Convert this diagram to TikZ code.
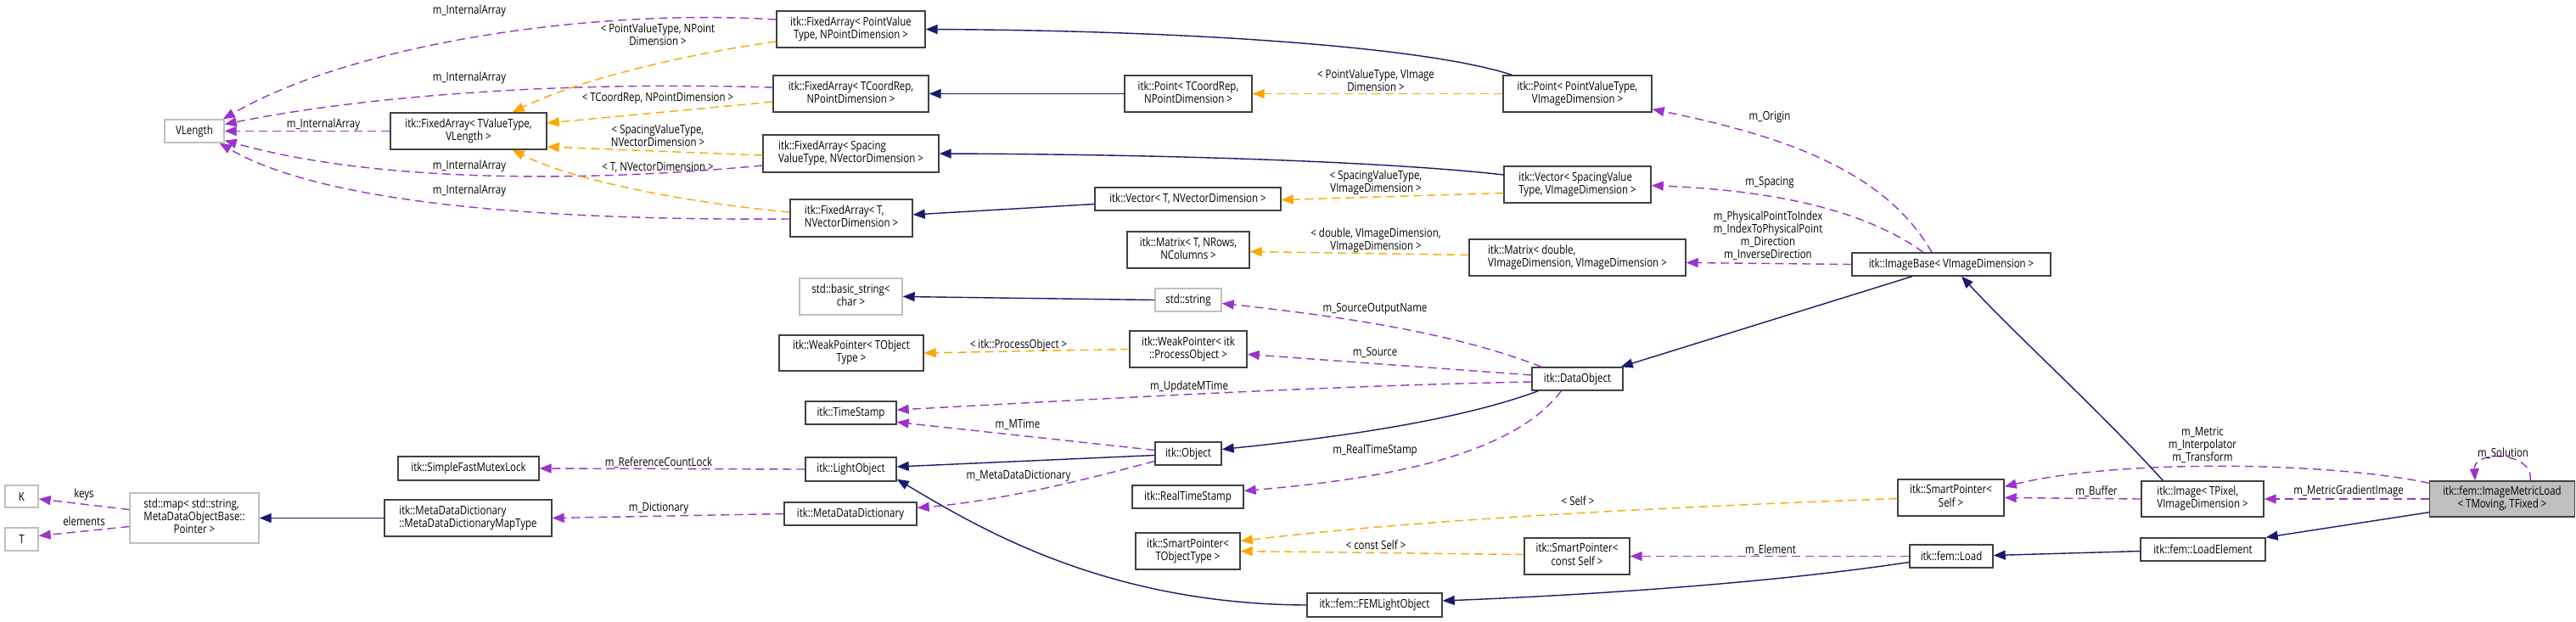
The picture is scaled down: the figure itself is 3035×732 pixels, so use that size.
\documentclass[tikz,border=0pt]{standalone}
\usepackage{fontspec}
\setmainfont[FakeStretch=0.82]{Open Sans}
\usetikzlibrary{arrows.meta,calc}
\definecolor{inh}{HTML}{191970}
\definecolor{usec}{HTML}{9A32CD}
\definecolor{tplc}{HTML}{FFA500}
\definecolor{bord}{HTML}{404040}
\definecolor{gbord}{HTML}{BFBFBF}
\definecolor{hl}{HTML}{BFBFBF}
\newcommand{\TwoL}[2]{\begin{tabular}{@{}l@{}}#1\\\multicolumn{1}{@{}c@{}}{#2}\end{tabular}}
\newcommand{\ThreeL}[3]{\begin{tabular}{@{}l@{}}#1\\#2\\\multicolumn{1}{@{}c@{}}{#3}\end{tabular}}
\tikzset{
  cls/.style={draw=bord, line width=1.4pt, fill=white, inner sep=0pt, align=center},
  ext/.style={cls, draw=gbord},
  lbl/.style={inner sep=0pt, align=center},
  tip/.style={-{Triangle[length=14pt,width=11pt]}},
  inhe/.style={draw=inh, line width=1.4pt, tip},
  usee/.style={draw=usec, line width=1.4pt, dash pattern=on 10pt off 6pt, tip},
  tple/.style={draw=tplc, line width=1.4pt, dash pattern=on 10pt off 6pt, tip},
}
\begin{document}
\begin{tikzpicture}[x=1pt,y=-1pt,font=\fontsize{14}{15}\selectfont]
\useasboundingbox (0,0) rectangle (3035,732);
\fill[white] (0,0) rectangle (3035,732);

% ---------- nodes ----------
\node[ext, minimum width=70pt, minimum height=27pt] (vlen) at (229,154.5) {VLength};
\node[cls, minimum width=184pt, minimum height=43pt] (faTV) at (552,154.5) {\TwoL{itk::FixedArray< TValueType,}{VLength >}};
\node[cls, minimum width=175pt, minimum height=43pt] (faPV) at (1002.5,34.5) {\TwoL{itk::FixedArray< PointValue}{Type, NPointDimension >}};
\node[cls, minimum width=183pt, minimum height=43pt] (faTC) at (1002.5,110.5) {\TwoL{itk::FixedArray< TCoordRep,}{NPointDimension >}};
\node[cls, minimum width=207pt, minimum height=44pt] (faSV) at (1002.5,181) {\TwoL{itk::FixedArray< Spacing}{ValueType, NVectorDimension >}};
\node[cls, minimum width=144pt, minimum height=44pt] (faTN) at (1003,257) {\TwoL{itk::FixedArray< T,}{NVectorDimension >}};
\node[cls, minimum width=150pt, minimum height=43pt] (ptTC) at (1400,110.5) {\TwoL{itk::Point< TCoordRep,}{NPointDimension >}};
\node[cls, minimum width=219pt, minimum height=27pt] (vecTN) at (1399.5,234.5) {itk::Vector< T, NVectorDimension >};
\node[cls, minimum width=144pt, minimum height=43pt] (mxT) at (1400,294.5) {\TwoL{itk::Matrix< T, NRows,}{NColumns >}};
\node[cls, minimum width=175pt, minimum height=43pt] (ptPV) at (1858.5,110.5) {\TwoL{itk::Point< PointValueType,}{VImageDimension >}};
\node[cls, minimum width=173pt, minimum height=43pt] (vecSV) at (1858.5,217.5) {\TwoL{itk::Vector< SpacingValue}{Type, VImageDimension >}};
\node[cls, minimum width=255pt, minimum height=43pt] (mxD) at (1858.5,303.5) {\TwoL{itk::Matrix< double,}{VImageDimension, VImageDimension >}};
\node[cls, minimum width=234pt, minimum height=27pt] (ib) at (2299,311.5) {itk::ImageBase< VImageDimension >};
\node[ext, minimum width=121pt, minimum height=43pt] (bstr) at (1002.5,349.5) {\TwoL{std::basic\_string<}{char >}};
\node[ext, minimum width=78pt, minimum height=27pt] (str) at (1400,353.5) {std::string};
\node[cls, minimum width=170pt, minimum height=42pt] (wpT) at (1003,416) {\TwoL{itk::WeakPointer< TObject}{Type >}};
\node[cls, minimum width=138pt, minimum height=43pt] (wpP) at (1400,411.5) {\TwoL{itk::WeakPointer< itk}{::ProcessObject >}};
\node[cls, minimum width=107pt, minimum height=27pt] (dobj) at (1858.5,446.5) {itk::DataObject};
\node[cls, minimum width=107pt, minimum height=27pt] (ts) at (1002.5,486.5) {itk::TimeStamp};
\node[cls, minimum width=78pt, minimum height=27pt] (obj) at (1400,534.5) {itk::Object};
\node[cls, minimum width=107pt, minimum height=28pt] (lo) at (1002.5,553) {itk::LightObject};
\node[cls, minimum width=131pt, minimum height=27pt] (rts) at (1399.5,585.5) {itk::RealTimeStamp};
\node[cls, minimum width=156pt, minimum height=27pt] (mdd) at (1002,605.5) {itk::MetaDataDictionary};
\node[cls, minimum width=123pt, minimum height=43pt] (spT) at (1399.5,649.5) {\TwoL{itk::SmartPointer<}{TObjectType >}};
\node[cls, minimum width=166pt, minimum height=28pt] (sfm) at (552,552) {itk::SimpleFastMutexLock};
\node[ext, minimum width=39pt, minimum height=26pt] (K) at (25.5,585) {K};
\node[ext, minimum width=39pt, minimum height=27pt] (T) at (25.5,635.5) {T};
\node[ext, minimum width=152pt, minimum height=59pt] (map) at (229,610.5) {\ThreeL{std::map< std::string,}{MetaDataObjectBase::}{Pointer >}};
\node[cls, minimum width=197pt, minimum height=43pt] (mddmt) at (551.5,610.5) {\TwoL{itk::MetaDataDictionary}{::MetaDataDictionaryMapType}};
\node[cls, minimum width=125pt, minimum height=43pt] (spS) at (2298.5,586.5) {\TwoL{itk::SmartPointer<}{Self >}};
\node[cls, minimum width=144pt, minimum height=42pt] (img) at (2595,588) {\TwoL{itk::Image< TPixel,}{VImageDimension >}};
\node[cls, fill=hl, minimum width=171pt, minimum height=42pt] (iml) at (2948,588) {\TwoL{itk::fem::ImageMetricLoad}{< TMoving, TFixed >}};
\node[cls, minimum width=124pt, minimum height=43pt] (spC) at (1858,655.5) {\TwoL{itk::SmartPointer<}{const Self >}};
\node[cls, minimum width=98pt, minimum height=27pt] (load) at (2299,655.5) {itk::fem::Load};
\node[cls, minimum width=147pt, minimum height=27pt] (le) at (2595.5,647.5) {itk::fem::LoadElement};
\node[cls, minimum width=159pt, minimum height=28pt] (feml) at (1619.5,713) {itk::fem::FEMLightObject};

% ---------- usage edges (purple) ----------
\draw[usee] (faTV.west) -- (vlen.east);
\draw[usee] ($(faPV.west)+(0,-11.5)$) .. controls (700,10) and (420,50) .. ($(vlen.north east)+(-2,0)$);
\draw[usee] ($(faTC.west)+(0,-7.5)$) .. controls (650,95) and (420,115) .. ($(vlen.east)+(0,-8)$);
\draw[usee] ($(faSV.west)+(0,14)$) .. controls (700,214) and (450,217) .. ($(vlen.east)+(0,11)$);
\draw[usee] ($(faTN.west)+(0,1)$) .. controls (640,260) and (380,240) .. ($(vlen.south east)+(-6,0)$);
\draw[usee] ($(ib.north)+(-23,0)$) .. controls (2220,200) and (2100,160) .. ($(ptPV.south east)+(0,-4)$);
\draw[usee] ($(ib.north)+(-33,0)$) .. controls (2200,250) and (2100,225) .. ($(vecSV.east)+(0,1)$);
\draw[usee] (ib.west) -- ($(mxD.east)+(0,6)$);
\draw[usee] ($(dobj.north west)+(12,0)$) .. controls (1720,395) and (1600,375) .. ($(str.east)+(0,4)$);
\draw[usee] ($(dobj.west)+(0,-4.5)$) -- ($(wpP.east)+(0,6)$);
\draw[usee] ($(dobj.west)+(0,3.5)$) .. controls (1550,455) and (1300,470) .. ($(ts.east)+(0,-3.5)$);
\draw[usee] ($(obj.west)+(0,-4)$) -- ($(ts.east)+(0,11)$);
\draw[usee] (lo.west) -- (sfm.east);
\draw[usee] ($(obj.west)+(0,9)$) .. controls (1280,565) and (1180,590) .. ($(mdd.east)+(0,-7)$);
\draw[usee] ($(dobj.south west)+(35,0)$) .. controls (1780,540) and (1620,565) .. ($(rts.east)+(0,-7)$);
\draw[usee] (mdd.west) -- (mddmt.east);
\draw[usee] ($(map.west)+(0,-10)$) -- ($(K.east)+(0,3)$);
\draw[usee] ($(map.west)+(0,10)$) -- ($(T.east)+(0,-4)$);
\draw[usee] ($(iml.north west)+(0,3)$) .. controls (2750,545) and (2500,540) .. ($(spS.east)+(0,-13)$);
\draw[usee] (img.west) -- (spS.east);
\draw[usee] (iml.west) -- (img.east);
\draw[usee] ($(iml.north)+(33,0)$) .. controls (2986,532) and (2914,530) .. ($(iml.north)+(-32,0)$);
\draw[usee] (load.west) -- (spC.east);

% ---------- template edges (orange) ----------
\draw[tple] ($(faPV.west)+(0,14.5)$) .. controls (800,65) and (680,95) .. ($(faTV.north east)+(-41,0)$);
\draw[tple] ($(faTC.west)+(0,9.5)$) -- ($(faTV.east)+(0,-9.5)$);
\draw[tple] ($(faSV.west)+(0,2)$) -- ($(faTV.east)+(0,18.5)$);
\draw[tple] ($(faTN.west)+(0,-7)$) .. controls (820,240) and (680,215) .. ($(faTV.south east)+(-41,0)$);
\draw[tple] (ptPV.west) -- (ptTC.east);
\draw[tple] ($(vecSV.west)+(0,10)$) -- ($(vecTN.east)+(0,1)$);
\draw[tple] ($(mxD.west)+(0,-3)$) -- ($(mxT.east)+(0,2)$);
\draw[tple] (wpP.west) -- (wpT.east);
\draw[tple] ($(spS.west)+(0,1)$) .. controls (1900,600) and (1650,615) .. ($(spT.east)+(0,-12)$);
\draw[tple] ($(spC.west)+(0,-2)$) -- (spT.east);

% ---------- inheritance edges (blue) ----------
\draw[inhe] ($(ptPV.north west)+(11,0)$) .. controls (1680,55) and (1400,36) .. (faPV.east);
\draw[inhe] (ptTC.west) -- (faTC.east);
\draw[inhe] ($(vecSV.west)+(0,-11.5)$) .. controls (1650,192) and (1400,182) .. (faSV.east);
\draw[inhe] ($(vecTN.west)+(0,6)$) -- ($(faTN.east)+(0,-4)$);
\draw[inhe] (str.west) -- (bstr.east);
\draw[inhe] ($(ib.south)+(-46,0)$) -- ($(dobj.north east)+(-3,0)$);
\draw[inhe] ($(obj.west)+(0,2)$) -- ($(lo.east)+(0,-3)$);
\draw[inhe] ($(dobj.south west)+(8,0)$) .. controls (1720,495) and (1580,515) .. ($(obj.east)+(0,-5)$);
\draw[inhe] (mddmt.west) -- (map.east);
\draw[inhe] ($(img.north west)+(26,0)$) .. controls (2470,480) and (2380,400) .. ($(ib.south)+(12,0)$);
\draw[inhe] ($(iml.south west)+(0,-6)$) -- (le.north east);
\draw[inhe] ($(le.west)+(0,2)$) -- ($(load.east)+(0,-1)$);
\draw[inhe] ($(load.west)+(0,7)$) .. controls (2100,685) and (1900,700) .. ($(feml.east)+(0,-5)$);
\draw[inhe] (feml.west) .. controls (1300,712) and (1150,620) .. ($(lo.south east)+(0,-3)$);

% ---------- edge labels ----------
\node[lbl] (l01) at (381,147) {m\_InternalArray};
\node[lbl] (l02) at (553,13) {m\_InternalArray};
\node[lbl] (l03) at (553,92) {m\_InternalArray};
\node[lbl] (l04) at (553,196) {m\_InternalArray};
\node[lbl] (l05) at (553,225) {m\_InternalArray};
\node[lbl] (l06) at (775,40.5) {< PointValueType, NPoint\\Dimension >};
\node[lbl] (l07) at (775,116) {< TCoordRep, NPointDimension >};
\node[lbl] (l08) at (775,159.5) {< SpacingValueType,\\NVectorDimension >};
\node[lbl] (l09) at (775,197) {< T, NVectorDimension >};
\node[lbl] (l10) at (1621,94.5) {< PointValueType, VImage\\Dimension >};
\node[lbl] (l11) at (1621,215.5) {< SpacingValueType,\\VImageDimension >};
\node[lbl] (l12) at (1621,283) {< double, VImageDimension,\\VImageDimension >};
\node[lbl] (l13) at (2085,138) {m\_Origin};
\node[lbl] (l14) at (2085,215) {m\_Spacing};
\node[lbl] (l15) at (2083,278) {m\_PhysicalPointToIndex\\m\_IndexToPhysicalPoint\\m\_Direction\\m\_InverseDirection};
\node[lbl] (l16) at (1620,364) {m\_SourceOutputName};
\node[lbl] (l17) at (1620,415) {m\_Source};
\node[lbl] (l18) at (1200,407) {< itk::ProcessObject >};
\node[lbl] (l19) at (1401,456) {m\_UpdateMTime};
\node[lbl] (l20) at (1199,500) {m\_MTime};
\node[lbl] (l21) at (776,545) {m\_ReferenceCountLock};
\node[lbl] (l22) at (1200,561) {m\_MetaDataDictionary};
\node[lbl] (l23) at (1620,531) {m\_RealTimeStamp};
\node[lbl] (l24) at (776,599) {m\_Dictionary};
\node[lbl] (l25) at (99,583) {keys};
\node[lbl] (l26) at (99,614) {elements};
\node[lbl] (l27) at (1859,590) {< Self >};
\node[lbl] (l28) at (1621,642) {< const Self >};
\node[lbl] (l29) at (2086,648) {m\_Element};
\node[lbl] (l30) at (2595,524.5) {m\_Metric\\m\_Interpolator\\m\_Transform};
\node[lbl] (l31) at (2470,579) {m\_Buffer};
\node[lbl] (l32) at (2767,579) {m\_MetricGradientImage};
\node[lbl] (l33) at (2949,534) {m\_Solution};
\end{tikzpicture}
\end{document}
